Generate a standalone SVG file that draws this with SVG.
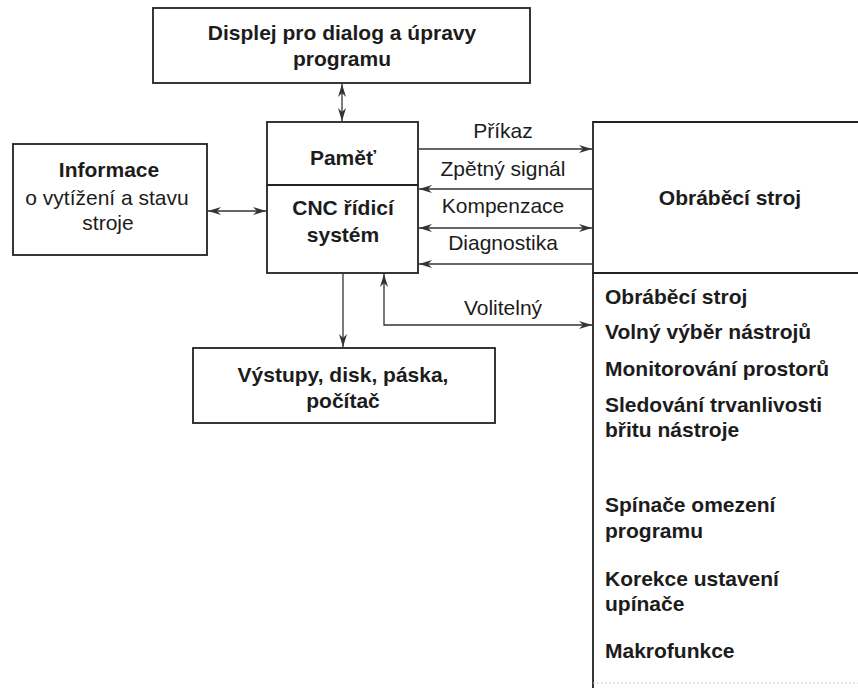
<svg xmlns="http://www.w3.org/2000/svg" width="858" height="688" viewBox="0 0 858 688">
<style>
.box{fill:none;stroke:#222;stroke-width:1.8}
.b{font-family:"Liberation Sans",Arial,sans-serif;font-weight:bold;font-size:21px;fill:#1c1c1c}
.r{font-family:"Liberation Sans",Arial,sans-serif;font-size:21px;fill:#1c1c1c}
.m{text-anchor:middle}
.c{fill:none;stroke:#333;stroke-width:1.3}
</style>
<defs>
<marker id="ah" markerUnits="userSpaceOnUse" markerWidth="14" markerHeight="10" refX="13" refY="4.5" orient="auto-start-reverse" viewBox="0 0 14 10">
<path d="M0,0.5 L13,4.5 L0,8.5 L4,4.5 Z" fill="#333"/>
</marker>
</defs>
<rect width="858" height="688" fill="#fff"/>

<g id="display">
<rect class="box" x="153" y="8" width="377" height="75"/>
<text class="b m" x="342" y="40">Displej pro dialog a úpravy</text>
<text class="b m" x="342" y="66">programu</text>
</g>

<g id="cnc">
<rect class="box" x="267" y="122" width="151" height="151"/>
<line class="box" x1="267" y1="185" x2="418" y2="185"/>
<text class="b m" x="343" y="165">Paměť</text>
<text class="b m" x="343" y="215" font-size="20">CNC řídicí</text>
<text class="b m" x="343" y="242" font-size="20">systém</text>
</g>

<g id="info">
<rect class="box" x="13" y="144" width="194" height="111"/>
<text class="b m" x="109" y="177" font-size="20">Informace</text>
<text class="r m" x="107" y="205" font-size="22">o vytížení a stavu</text>
<text class="r m" x="108" y="230">stroje</text>
</g>

<g id="stroj">
<path class="box" d="M860,122 H593 V273 H860"/>
<line class="box" x1="593" y1="273" x2="593" y2="688"/>
<text class="b m" x="730" y="205">Obráběcí stroj</text>
<line x1="593" y1="683" x2="858" y2="683" stroke="#ccc" stroke-width="1" stroke-dasharray="2,2"/>
</g>

<g id="options">
<text class="b" x="605" y="304">Obráběcí stroj</text>
<text class="b" x="605" y="339">Volný výběr nástrojů</text>
<text class="b" x="605" y="376">Monitorování prostorů</text>
<text class="b" x="605" y="412">Sledování trvanlivosti</text>
<text class="b" x="605" y="437">břitu nástroje</text>
<text class="b" x="605" y="512">Spínače omezení</text>
<text class="b" x="605" y="538">programu</text>
<text class="b" x="605" y="586">Korekce ustavení</text>
<text class="b" x="605" y="611">upínače</text>
<text class="b" x="605" y="658">Makrofunkce</text>
</g>

<g id="output">
<rect class="box" x="193" y="348" width="302" height="75"/>
<text class="b m" x="343" y="382">Výstupy, disk, páska,</text>
<text class="b m" x="343" y="408">počítač</text>
</g>

<g id="connectors">
<line class="c" x1="342" y1="84" x2="342" y2="121" marker-start="url(#ah)" marker-end="url(#ah)"/>
<line class="c" x1="208" y1="211" x2="266" y2="211" marker-start="url(#ah)" marker-end="url(#ah)"/>
<line class="c" x1="419" y1="149" x2="592" y2="149" marker-end="url(#ah)"/>
<line class="c" x1="592" y1="189" x2="419" y2="189" marker-end="url(#ah)"/>
<line class="c" x1="419" y1="228" x2="592" y2="228" marker-start="url(#ah)" marker-end="url(#ah)"/>
<line class="c" x1="592" y1="264" x2="419" y2="264" marker-end="url(#ah)"/>
<line class="c" x1="343" y1="274" x2="343" y2="347" marker-end="url(#ah)"/>
<path class="c" d="M384,274 V325 H592" marker-start="url(#ah)" marker-end="url(#ah)"/>
<text class="r m" x="503" y="138">Příkaz</text>
<text class="r m" x="503" y="176">Zpětný signál</text>
<text class="r m" x="503" y="213">Kompenzace</text>
<text class="r m" x="503" y="250">Diagnostika</text>
<text class="r m" x="503" y="315">Volitelný</text>
</g>
</svg>
